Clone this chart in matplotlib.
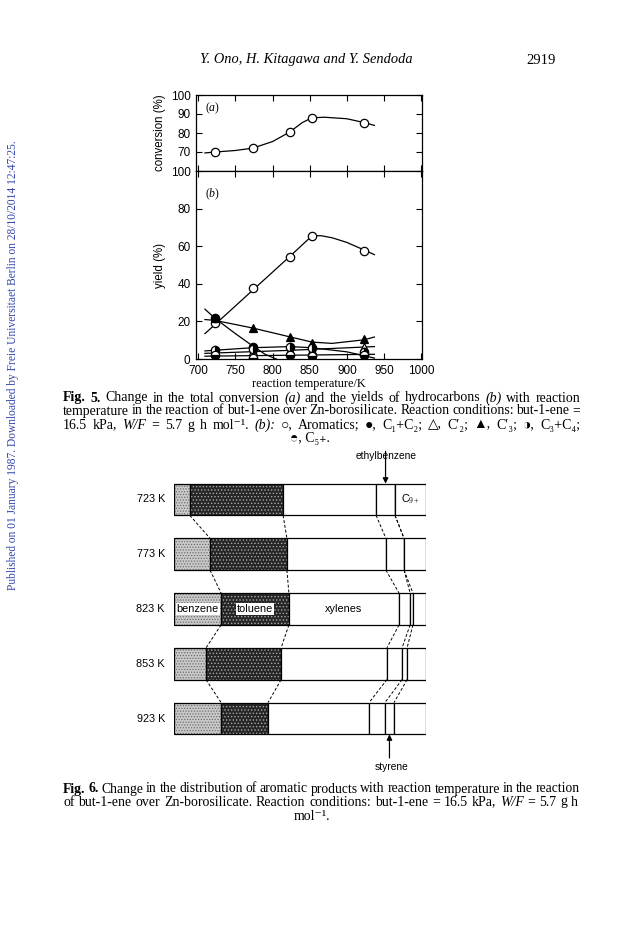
import matplotlib
matplotlib.use("Agg")
import matplotlib.pyplot as plt

plt.rcParams['font.family'] = ['Liberation Serif', 'DejaVu Sans']
plt.rcParams['mathtext.fontset'] = 'custom'
plt.rcParams['mathtext.rm'] = 'Liberation Serif'
plt.rcParams['mathtext.it'] = 'Liberation Serif:italic'
plt.rcParams['mathtext.bf'] = 'Liberation Serif:bold'
plt.rcParams['hatch.linewidth'] = 0.6

W, H = 624, 935
SANS = ['Liberation Sans', 'DejaVu Sans']
CAP = 10.0

########################  Fig. 5 data  ########################
temps = [723, 773, 823, 853, 923]
conversion = [70, 72, 80.5, 88, 85.5]
conv_curve_x = [709, 723, 750, 773, 800, 823, 840, 853, 870, 900, 923, 937]
conv_curve_y = [69.5, 70, 70.8, 72, 75.5, 80.5, 85.5, 88, 88.3, 87.5, 85.5, 84]

aromatics = [19, 38, 54, 65.5, 57.5]
arom_curve_x = [709, 723, 773, 823, 853, 865, 880, 900, 923, 937]
arom_curve_y = [13.5, 18.5, 36.5, 54.5, 65.5, 65.6, 64.5, 62, 58, 55.5]

c1c2 = [22, 6.5]
c1c2_curve_x = [709, 723, 750, 773, 790, 805]
c1c2_curve_y = [26.5, 21.5, 13.5, 7, 2.5, 0]

c2_ene = [3.2, 4.0, 4.6, 5.0, 6.2]
c2_curve_x = [709, 823, 937]
c2_curve_y = [3.0, 4.6, 6.6]

c3_ene = [22, 16.5, 11.5, 8.5, 10.5]
c3_curve_x = [709, 723, 773, 823, 853, 880, 923, 937]
c3_curve_y = [21, 20.5, 16.5, 11.8, 9, 8.3, 10.2, 11.7]

c3c4 = [4.8, 5.5, 6.6, 6.0, 3.5]
c3c4_curve_x = [709, 773, 823, 853, 900, 937]
c3c4_curve_y = [4.3, 6.0, 6.6, 6.0, 3.8, 0.5]

c5 = [2.0, 0.5, 2.0, 1.5, 2.0]
c5_curve_x = [709, 823, 937]
c5_curve_y = [1.5, 2.0, 2.5]

########################  Fig. 6 data  ########################
bar_labels = ['723 K', '773 K', '823 K', '853 K', '923 K']
benzene = [6.3, 14.3, 18.7, 12.7, 18.7]
toluene = [37.0, 30.5, 26.9, 29.8, 18.6]
xylenes = [36.9, 39.3, 43.7, 42.0, 40.1]
ethylbenzene = [7.5, 7.2, 4.4, 6.0, 6.3]
styrene = [0, 0, 1.1, 2.0, 3.6]
c9plus = [12.3, 8.7, 5.2, 7.5, 12.7]


def justify_line(fig, words, x0, x1, y, size, min_gap=3.0):
    # spread the words over x0..x1, shrinking the font if the line would not fit
    r = fig.canvas.get_renderer()
    arts = []
    for w in words:
        if isinstance(w, tuple):
            s, kw = w
        else:
            s, kw = w, {}
        arts.append(fig.text(0, 1 - y / H, s, fontsize=size, va='center', ha='left', **kw))
    widths = [a.get_window_extent(r).width for a in arts]
    room = x1 - x0 - (len(arts) - 1) * min_gap
    if sum(widths) > room:
        size = size * room / sum(widths)
        for a in arts:
            a.set_fontsize(size)
        widths = [a.get_window_extent(r).width for a in arts]
    gap = (x1 - x0 - sum(widths)) / (len(arts) - 1)
    x = x0
    for a, w in zip(arts, widths):
        a.set_x(x / W)
        x += w + gap


fig = plt.figure(figsize=(6.24, 9.35), dpi=100)

# page header and side stamp
fig.text(200 / W, 1 - 60 / H, 'Y. Ono, H. Kitagawa and Y. Sendoda', style='italic',
         fontsize=10.4, va='center', ha='left')
fig.text(556 / W, 1 - 60 / H, '2919', fontsize=10.5, va='center', ha='right')
fig.text(13 / W, 1 - 365 / H,
         'Published on 01 January 1987. Downloaded by Freie Universitaet Berlin on 28/10/2014 12:47:25.',
         rotation=90, color='#3344aa', fontsize=8.3, va='center', ha='center')

######################   Fig. 5 (a)  ######################
ax_a = fig.add_axes([196 / W, 1 - 171 / H, 226 / W, 76 / H])
ax_b = fig.add_axes([196 / W, 1 - 359 / H, 226 / W, 188 / H])

mk = dict(ms=6, mec='k', mew=0.9, ls='none')

ax_a.plot(conv_curve_x, conv_curve_y, 'k-', lw=0.9)
ax_a.plot(temps, conversion, marker='o', mfc='white', **mk)
ax_a.set_ylim(60, 100)
ax_a.set_yticks([70, 80, 90, 100])
ax_a.text(0.04, 0.78, '($a$)', transform=ax_a.transAxes, fontsize=8.5)
ax_a.set_ylabel('conversion (%)', family=SANS, fontsize=8.3, labelpad=3)

######################   Fig. 5 (b)  ######################
ax_b.plot(arom_curve_x, arom_curve_y, 'k-', lw=0.9)
ax_b.plot(c1c2_curve_x, c1c2_curve_y, 'k-', lw=0.9)
ax_b.plot(c2_curve_x, c2_curve_y, 'k-', lw=0.9)
ax_b.plot(c3_curve_x, c3_curve_y, 'k-', lw=0.9)
ax_b.plot(c3c4_curve_x, c3c4_curve_y, 'k-', lw=0.9)
ax_b.plot(c5_curve_x, c5_curve_y, 'k-', lw=0.9)

ax_b.plot(temps, aromatics, marker='o', mfc='white', **mk)
ax_b.plot(temps[:len(c1c2)], c1c2, marker='o', mfc='k', **mk)
ax_b.plot(temps, c2_ene, marker='^', mfc='white', **mk)
ax_b.plot(temps, c3_ene, marker='^', mfc='k', **mk)
ax_b.plot(temps, c3c4, marker='o', fillstyle='right', mfc='k', mfcalt='white', **mk)
ax_b.plot(temps, c5, marker='o', fillstyle='bottom', mfc='k', mfcalt='white', **mk)

ax_b.set_ylim(0, 100)
ax_b.set_yticks([0, 20, 40, 60, 80, 100])
ax_b.text(0.04, 0.86, '($b$)', transform=ax_b.transAxes, fontsize=8.5)
ax_b.set_ylabel('yield (%)', family=SANS, fontsize=8.3, labelpad=3)
ax_b.set_xlabel('reaction temperature/K', fontsize=8.8, labelpad=1)

for ax in (ax_a, ax_b):
    ax.set_xlim(697, 1001)
    ax.set_xticks([700, 750, 800, 850, 900, 950, 1000])
    ax.tick_params(direction='in', length=4, width=0.8, top=True, right=True,
                   labelsize=8.5, pad=4)
    for lab in ax.get_xticklabels() + ax.get_yticklabels():
        lab.set_family(SANS)
    for s in ax.spines.values():
        s.set_linewidth(0.9)
ax_a.tick_params(labelbottom=False)

######################   Fig. 5 caption  ######################
bold = {'weight': 'bold'}
ital = {'style': 'italic'}
justify_line(fig, [('Fig.', bold), ('5.', bold), 'Change', 'in', 'the', 'total', 'conversion',
                   ('(a)', ital), 'and', 'the', 'yields', 'of', 'hydrocarbons', ('(b)', ital),
                   'with', 'reaction'],
             63, 580, 398, CAP)
justify_line(fig, ['temperature', 'in', 'the', 'reaction', 'of', 'but-1-ene', 'over',
                   'Zn-borosilicate.', 'Reaction', 'conditions:', 'but-1-ene', '='],
             63, 580, 411, CAP)
justify_line(fig, ['16.5', 'kPa,', ('W/F', ital), '=', '5.7', 'g', 'h', 'mol⁻¹.',
                   ('(b):', ital), '○,', 'Aromatics;', '●,', 'C₁+C₂;', '△,',
                   'C′₂;', '▲,', 'C′₃;', '◑,', 'C₃+C₄;'],
             63, 580, 425, CAP)
fig.text(310 / W, 1 - 438 / H, '◓, C₅₊.', fontsize=CAP, ha='center', va='center')

######################   Fig. 6  ######################
ax_c = fig.add_axes([174 / W, 1 - 751.35 / H, 252 / W, 284.7 / H])
ax_c.set_xlim(0, 100)
ax_c.set_ylim(4.6, -0.6)
ax_c.axis('off')

bh = 0.58
rows = range(len(bar_labels))
segments = [benzene, toluene, xylenes, ethylbenzene, styrene, c9plus]
styles = [('#c9c9c9', '......', '#6f6f6f'),
          ('#262626', '.....', '#a8a8a8'),
          ('white', None, None),
          ('white', None, None),
          ('white', None, None),
          ('white', None, None)]

cum = []
for i in rows:
    left = 0
    edges = []
    for seg, (fc, hatch, hc) in zip(segments, styles):
        ax_c.barh(i, seg[i], left=left, height=bh, color=fc, linewidth=0)
        if hatch:
            ax_c.barh(i, seg[i], left=left, height=bh, fill=False, hatch=hatch,
                      edgecolor=hc, linewidth=0)
        ax_c.barh(i, seg[i], left=left, height=bh, fill=False, edgecolor='k', linewidth=0.9)
        left += seg[i]
        edges.append(left)
    cum.append(edges[:-1])
    ax_c.text(-3.6, i, bar_labels[i], family=SANS, fontsize=7.8, ha='right', va='center')

# dashed links between boundaries of neighbouring bars
for i in range(len(cum) - 1):
    for a, b in zip(cum[i], cum[i + 1]):
        ax_c.plot([a, b], [i + bh / 2, i + 1 - bh / 2], color='k', lw=0.7, ls=(0, (3, 2)))

# labels inside bars
ax_c.text(benzene[2] / 2, 2, 'benzene', family=SANS, fontsize=7.8, ha='center', va='center',
          bbox=dict(fc='white', ec='none', pad=0.6))
ax_c.text(benzene[2] + toluene[2] / 2, 2, 'toluene', family=SANS, fontsize=7.8, ha='center',
          va='center', bbox=dict(fc='white', ec='none', pad=0.6))
ax_c.text(benzene[2] + toluene[2] + xylenes[2] / 2, 2, 'xylenes', family=SANS, fontsize=7.8,
          ha='center', va='center')
ax_c.text(100 - c9plus[0] / 2, 0, r'C$_{9+}$', family=SANS, fontsize=7.8, ha='center', va='center')

eb_mid = cum[0][2] + ethylbenzene[0] / 2
ax_c.annotate('', xy=(eb_mid, -bh / 2), xytext=(eb_mid, -0.88), annotation_clip=False,
              arrowprops=dict(arrowstyle='-|>', color='k', lw=0.9, mutation_scale=8,
                              shrinkA=0, shrinkB=0))
fig.text(386 / W, 1 - 456 / H, 'ethylbenzene', family=SANS, fontsize=7.4, ha='center', va='center')

st_mid = cum[4][3] + styrene[4] / 2
ax_c.annotate('', xy=(st_mid, 4 + bh / 2), xytext=(st_mid, 4.72), annotation_clip=False,
              arrowprops=dict(arrowstyle='-|>', color='k', lw=0.9, mutation_scale=8,
                              shrinkA=0, shrinkB=0))
fig.text(392 / W, 1 - 767 / H, 'styrene', family=SANS, fontsize=7.4, ha='center', va='center')

######################   Fig. 6 caption  ######################
justify_line(fig, [('Fig.', bold), ('6.', bold), 'Change', 'in', 'the', 'distribution', 'of',
                   'aromatic', 'products', 'with', 'reaction', 'temperature', 'in', 'the', 'reaction'],
             63, 580, 789, CAP)
justify_line(fig, ['of', 'but-1-ene', 'over', 'Zn-borosilicate.', 'Reaction', 'conditions:',
                   'but-1-ene', '=', '16.5', 'kPa,', ('W/F', ital), '=', '5.7', 'g', 'h'],
             63, 578, 802, CAP)
fig.text(312 / W, 1 - 816 / H, 'mol⁻¹.', fontsize=CAP, ha='center', va='center')

fig.savefig('out.png', dpi=100)
